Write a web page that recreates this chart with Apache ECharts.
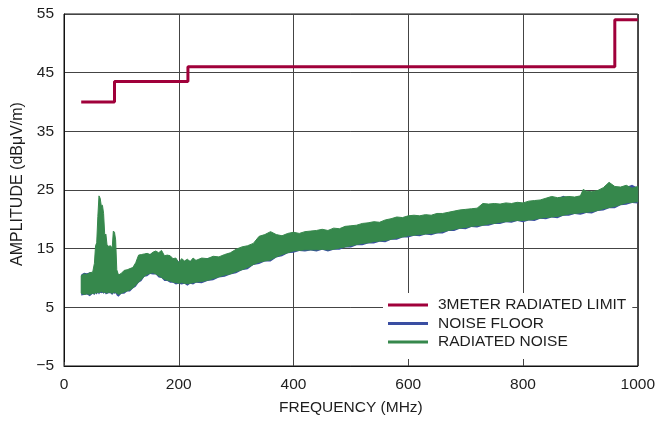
<!DOCTYPE html>
<html>
<head>
<meta charset="utf-8">
<script src="https://cdn.jsdelivr.net/npm/echarts@6/dist/echarts.min.js"></script>
<style>
html,body{margin:0;padding:0;background:#fff;}
#chart{width:658px;height:423px;}
</style>
</head>
<body>
<div id="chart"></div>
<script>
// ---- data ----
var limitFreq = [30, 88, 216, 960, 1000];
var limitLevel = [40, 43.5, 46, 54, 54];

var freq = [
  30,35,40,45,50,53,55,57,59,61,63,65,67,69,71,73,75,78,81,84,86,88,90,92,
  95,100,105,110,115,120,125,130,135,140,145,150,155,160,165,170,175,180,185,190,195,200,205,210,215,220,225,230,
  240,250,260,270,280,290,300,310,320,330,
  340,350,360,370,380,390,400,410,420,430,
  440,450,460,470,480,490,500,510,520,530,
  540,550,560,570,580,590,600,610,620,630,
  640,650,660,670,680,690,700,710,720,730,
  740,750,760,770,780,790,800,810,820,830,
  840,850,860,870,880,890,900,
  905,910,920,930,940,950,960,970,980,990,1000
];

var noiseLow = [
  7.4,7.2,7.3,7.2,7.4,7.3,7.5,7.4,7.6,7.5,7.6,7.7,7.6,7.5,7.6,7.5,7.4,7.6,7.5,7.4,7.5,7.6,7.5,7.4,
  7.2,7.4,7.6,7.8,8.0,8.3,8.8,9.3,9.8,10.3,10.6,10.8,10.9,10.7,10.4,10.1,9.8,9.6,9.5,9.3,9.2,9.1,9.2,9.1,9.0,9.1,9.2,9.3,
  9.4,9.6,9.9,10.2,10.5,10.7,11.1,11.4,11.8,12.3,
  12.7,12.9,13.1,13.6,14.0,14.3,14.6,14.7,14.8,14.8,
  14.8,14.9,14.8,14.9,15.1,15.3,15.5,15.7,15.9,16.0,
  16.2,16.3,16.4,16.6,16.8,17.0,17.2,17.3,17.4,17.5,
  17.6,17.7,17.9,18.1,18.3,18.5,18.6,18.8,18.9,19.0,
  19.2,19.3,19.5,19.6,19.7,19.8,19.8,19.9,20.0,20.2,
  20.3,20.4,20.5,20.7,20.9,21.0,21.1,
  21.2,21.2,21.3,21.5,21.8,22.0,22.2,22.5,22.8,22.9,23.0
];
var noiseHigh = [
  10.4,10.7,10.6,10.9,11.0,12.5,15.5,16.0,20.5,24.0,23.6,22.3,22.4,21.0,17.3,17.5,15.6,15.4,15.5,15.1,18.0,17.8,16.5,11.4,
  10.5,10.8,11.3,11.4,11.6,11.8,12.6,13.9,14.0,14.1,14.2,14.0,14.4,14.6,14.3,14.7,13.8,13.9,13.8,13.3,13.4,12.6,13.3,12.9,13.2,12.8,13.4,13.0,
  13.4,13.3,13.7,13.6,14.0,14.3,14.9,15.3,15.5,15.9,
  17.1,17.4,17.9,17.4,17.2,17.6,17.8,17.6,17.9,18.0,
  18.1,18.3,18.1,18.5,18.4,18.8,18.9,19.0,19.3,19.4,
  19.6,19.5,19.9,20.1,20.4,20.3,20.6,20.7,20.6,20.8,
  20.7,21.0,21.0,21.2,21.4,21.6,21.7,21.8,21.9,22.7,
  22.6,22.7,22.6,22.8,22.7,22.9,22.8,23.1,23.2,23.3,
  23.6,23.9,23.7,23.8,23.9,23.8,24.0,
  25.1,24.8,24.7,24.9,25.4,26.3,25.6,25.5,25.8,25.3,25.6
];

var floorLow = [
  7.0,7.1,7.2,6.9,7.3,7.1,7.4,7.2,7.5,7.2,7.5,7.4,7.5,7.3,7.5,7.2,7.3,7.4,7.4,7.1,7.4,7.3,7.4,7.0,
  6.8,7.3,7.3,7.7,7.7,8.2,8.5,9.2,9.5,10.2,10.3,10.7,10.6,10.6,10.1,10.0,9.5,9.5,9.2,9.2,8.9,9.0,8.9,9.0,8.7,9.0,8.9,9.2,
  9.1,9.5,9.6,10.1,10.2,10.6,10.8,11.3,11.5,12.2,
  12.4,12.8,12.8,13.5,13.7,14.2,14.3,14.6,14.5,14.7,
  14.5,14.8,14.5,14.8,14.8,15.2,15.2,15.6,15.6,15.9,
  15.9,16.2,16.1,16.5,16.5,16.9,16.9,17.2,17.1,17.4,
  17.3,17.6,17.6,18.0,18.0,18.4,18.3,18.7,18.6,18.9,
  18.9,19.2,19.2,19.5,19.4,19.7,19.5,19.8,19.7,20.1,
  20.0,20.3,20.2,20.6,20.6,20.9,20.8,
  20.9,21.1,21.0,21.4,21.5,21.9,21.9,22.4,22.5,22.8,22.7
];
var floorHigh = [
  10.6,10.9,10.8,11.0,10.9,11.0,11.1,11.0,11.2,11.1,11.0,11.2,11.1,11.0,11.1,11.2,11.0,11.1,11.2,11.0,11.1,11.0,11.2,11.1,
  10.6,10.6,11.0,11.2,11.5,11.7,12.3,13.5,13.8,14.0,14.0,14.1,14.2,14.3,14.2,14.3,13.8,13.7,13.6,13.3,13.2,12.8,13.0,12.9,13.0,12.9,13.1,13.0,
  13.2,13.4,13.5,13.4,13.8,14.2,14.7,15.1,15.4,15.7,
  16.8,17.2,17.6,17.3,17.0,17.5,17.6,17.5,17.7,17.8,
  18.0,18.1,18.0,18.3,18.3,18.6,18.7,18.8,19.1,19.2,
  19.4,19.4,19.7,19.9,20.2,20.1,20.4,20.5,20.4,20.6,
  20.6,20.8,20.8,21.0,21.2,21.4,21.5,21.6,21.7,22.3,
  22.4,22.5,22.4,22.6,22.5,22.7,22.6,22.9,23.0,23.1,
  23.4,23.7,23.5,24.0,23.7,23.6,23.8,
  24.6,24.6,24.5,24.7,25.1,25.9,25.4,25.3,25.5,25.9,25.4
];

var yTicks = [-5, 5, 15, 25, 35, 45, 55];
var xTicks = [0, 200, 400, 600, 800, 1000];

// ---- styles ----
var RED = '#A0003A', BLUE = '#3A4EA2', GREEN = '#36884C';
var FONT = '"Liberation Sans", Arial, sans-serif';
var FS = 15.5;
var TXT = '#1e1e1e';

function bandData(xs, lo, hi) { return xs.map(function (x, i) { return [x, lo[i], hi[i]]; }); }

// draw one filled band polygon (lower edge forward, upper edge backward) through the axis scales
function bandRenderer(color, stroke) {
  return function (params, api) {
    if (params.dataIndexInside !== 0) return null;
    var n = params.dataInsideLength, lower = [], upper = [];
    for (var i = 0; i < n; i++) {
      var x = api.value(0, i);
      lower.push(api.coord([x, api.value(1, i)]));
      upper.push(api.coord([x, api.value(2, i)]));
    }
    var pts = lower.concat(upper.reverse());
    return {
      type: 'polygon',
      shape: { points: pts },
      style: { fill: color, stroke: color, lineWidth: stroke }
    };
  };
}

var chart = echarts.init(document.getElementById('chart'), null, { renderer: 'canvas' });
chart.setOption({
  animation: false,
  backgroundColor: '#fff',
  grid: { left: 64, right: 18, top: 14, bottom: 57, show: true, borderColor: '#111', borderWidth: 1 },
  xAxis: {
    type: 'value', min: xTicks[0], max: xTicks[xTicks.length - 1], interval: 200,
    name: 'FREQUENCY (MHz)', nameLocation: 'middle', nameGap: 34,
    nameTextStyle: { fontFamily: FONT, fontSize: FS, color: TXT },
    axisLine: { show: true, onZero: false, lineStyle: { color: '#111', width: 1 } },
    axisTick: { show: true, inside: true, length: 4, lineStyle: { color: '#444' } },
    axisLabel: { fontFamily: FONT, fontSize: FS, color: TXT, margin: 11,
      formatter: function (v) { return String(v); } },
    splitLine: { show: true, lineStyle: { color: '#444', width: 1 } }
  },
  yAxis: {
    type: 'value', min: yTicks[0], max: yTicks[yTicks.length - 1], interval: 10,
    name: 'AMPLITUDE (dBμV/m)', nameLocation: 'middle', nameGap: 37, nameRotate: 90,
    nameTextStyle: { fontFamily: FONT, fontSize: 16, color: TXT, padding: [0, 0, 0, 12] },
    axisLine: { show: true, onZero: false, lineStyle: { color: '#111', width: 1 } },
    axisTick: { show: false },
    axisLabel: {
      fontFamily: FONT, fontSize: FS, color: TXT, margin: 10,
      formatter: function (v) { return v < 0 ? '\u2212' + Math.abs(v) : String(v); }
    },
    splitLine: { show: true, lineStyle: { color: '#444', width: 1 } }
  },
  legend: {
    orient: 'vertical', left: 383, top: 293,
    backgroundColor: '#fff', padding: [3, 6, 8, 5],
    itemWidth: 40, itemHeight: 3, itemGap: 0.5,
    selectedMode: false,
    textStyle: { fontFamily: FONT, fontSize: FS, color: TXT, lineHeight: 18, padding: [0, 0, 0, 5] },
    data: [
      { name: '3METER RADIATED LIMIT', icon: 'rect', itemStyle: { color: RED } },
      { name: 'NOISE FLOOR', icon: 'rect', itemStyle: { color: BLUE } },
      { name: 'RADIATED NOISE', icon: 'rect', itemStyle: { color: GREEN } }
    ]
  },
  series: [
    {
      name: 'NOISE FLOOR', type: 'custom', color: BLUE, silent: true, z: 2,
      encode: { x: 0, y: [1, 2] },
      data: bandData(freq, floorLow, floorHigh),
      renderItem: bandRenderer(BLUE, 0)
    },
    {
      name: 'RADIATED NOISE', type: 'custom', color: GREEN, silent: true, z: 3,
      encode: { x: 0, y: [1, 2] },
      data: bandData(freq, noiseLow, noiseHigh),
      renderItem: bandRenderer(GREEN, 1)
    },
    {
      name: '3METER RADIATED LIMIT', type: 'line', step: 'end',
      data: limitFreq.map(function (f, i) { return [f, limitLevel[i]]; }),
      showSymbol: false, symbol: 'none', silent: true, color: RED,
      lineStyle: { width: 3, color: RED }, z: 4
    }
  ]
});
</script>
</body>
</html>
